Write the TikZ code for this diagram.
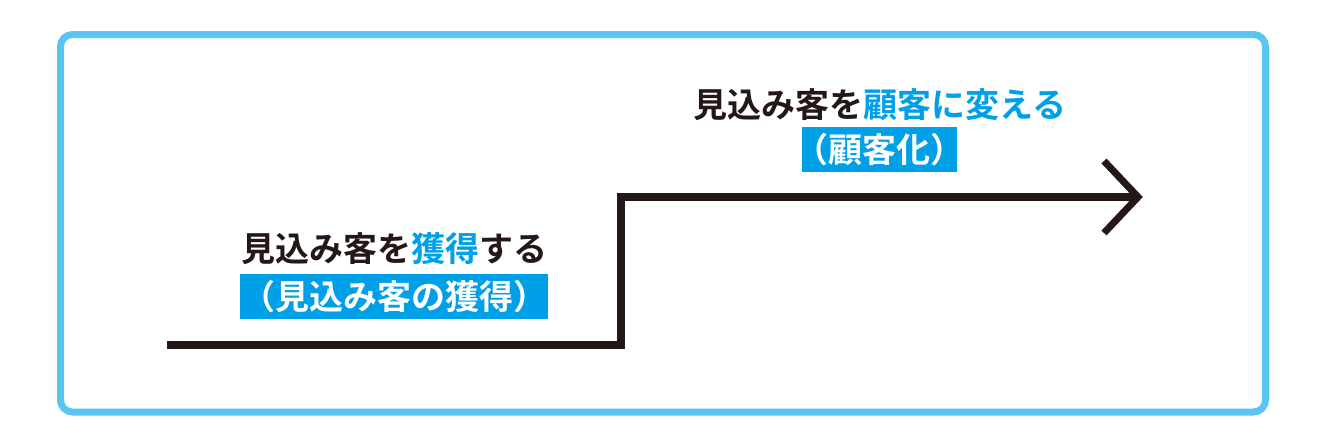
\documentclass[tikz,border=0pt]{standalone}
\usepackage{fontspec}
\newfontfamily\jp{Noto Sans CJK JP}[BoldFont={Noto Sans CJK JP Bold}]
\usepackage{tikz}
\usetikzlibrary{positioning}

\definecolor{FrameBlue}{HTML}{5BC5F2}
\definecolor{TextBlue}{HTML}{00A0E9}
\definecolor{InkBlack}{HTML}{231815}

\begin{document}
\begin{tikzpicture}[x=1pt,y=-1pt]
			\tikzstyle{Frame}	= [draw=FrameBlue, line width=7pt, rounded corners=12pt]
			\tikzstyle{Step}	= [draw=InkBlack, line width=7.5pt, line join=miter]
			\tikzstyle{Head}	= [draw=InkBlack, line width=7pt, line join=miter]
			\tikzstyle{Title}	= [inner sep=0pt, text=InkBlack, font=\jp\bfseries\fontsize{34}{40}\selectfont]
			\tikzstyle{Tag}		= [fill=TextBlue, text=white, inner xsep=1pt, inner ysep=0pt, minimum height=45pt, font=\jp\bfseries\fontsize{34}{40}\selectfont]

			\useasboundingbox (0, 0) rectangle (1319, 447);
			\draw [Frame] (60.5, 34.5) rectangle (1265.5, 412);

			\node (get) at (394, 249) [Title] {見込み客を\textcolor{TextBlue}{獲得}する};
			\node (gettag) at (394, 296.5) [Tag] {（見込み客の獲得）};
			\node (turn) at (879.5, 105) [Title] {見込み客を\textcolor{TextBlue}{顧客に変える}};
			\node (turntag) at (879.5, 149.5) [Tag, inner xsep=-7.5pt] {（顧客化）};

			\coordinate (s0) at (167, 345);
			\coordinate (s1) at (621, 345);
			\coordinate (s2) at (621, 197);
			\coordinate (tip) at (1138, 197);
			\coordinate (barbup) at (1104, 161);
			\coordinate (barbdown) at (1104, 233);

			\draw [Step] (s0) -- (s1) -- (s2) -- (tip);
			\draw [Head] (barbup) -- (tip) -- (barbdown);
		\end{tikzpicture}
\end{document}
